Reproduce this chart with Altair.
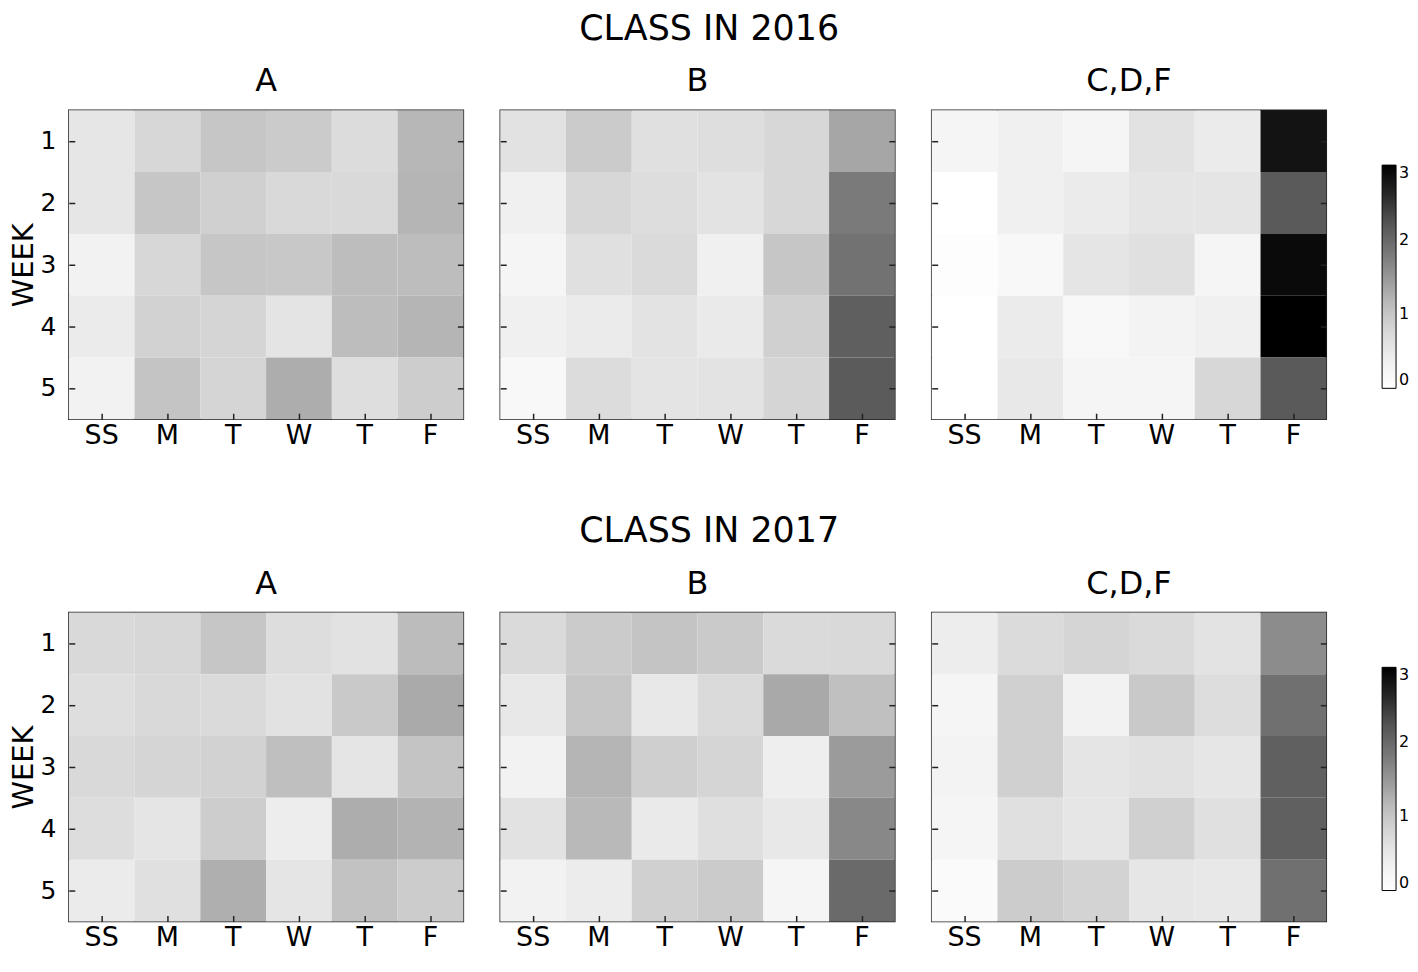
import json
import altair as alt
import pandas as pd

FONT = "DejaVu Sans"

day_labels = ["SS", "M", "T", "W", "T", "F"]
week_labels = [1, 2, 3, 4, 5]
class_names = ["A", "B", "C,D,F"]
years = ["2016", "2017"]

# rows = weeks 1..5 ; columns = SS, M, T, W, T, F
a_2016 = [
    [0.54, 0.78, 1.00, 0.94, 0.70, 1.18],
    [0.54, 1.00, 0.87, 0.75, 0.75, 1.20],
    [0.33, 0.78, 1.00, 0.98, 1.12, 1.12],
    [0.46, 0.84, 0.80, 0.57, 1.12, 1.20],
    [0.33, 1.03, 0.80, 1.28, 0.67, 0.91],
]
b_2016 = [
    [0.60, 0.94, 0.64, 0.67, 0.78, 1.35],
    [0.38, 0.78, 0.69, 0.59, 0.78, 1.80],
    [0.25, 0.64, 0.73, 0.38, 1.00, 1.89],
    [0.38, 0.46, 0.59, 0.47, 0.87, 2.10],
    [0.18, 0.70, 0.57, 0.59, 0.80, 2.15],
]
cdf_2016 = [
    [0.25, 0.38, 0.25, 0.60, 0.46, 2.81],
    [0.00, 0.38, 0.46, 0.56, 0.56, 2.16],
    [0.05, 0.18, 0.56, 0.64, 0.25, 2.90],
    [0.00, 0.46, 0.18, 0.30, 0.38, 3.00],
    [0.00, 0.51, 0.25, 0.25, 0.78, 2.16],
]
a_2017 = [
    [0.75, 0.78, 1.00, 0.69, 0.60, 1.13],
    [0.67, 0.75, 0.73, 0.60, 0.96, 1.31],
    [0.75, 0.80, 0.84, 1.10, 0.56, 1.03],
    [0.69, 0.56, 0.91, 0.42, 1.28, 1.22],
    [0.46, 0.64, 1.26, 0.56, 1.06, 0.92],
]
b_2017 = [
    [0.73, 0.94, 1.03, 0.95, 0.73, 0.75],
    [0.51, 1.00, 0.51, 0.73, 1.32, 1.08],
    [0.33, 1.20, 0.88, 0.80, 0.41, 1.45],
    [0.60, 1.16, 0.47, 0.65, 0.51, 1.65],
    [0.33, 0.44, 0.87, 0.94, 0.25, 1.98],
]
cdf_2017 = [
    [0.42, 0.72, 0.80, 0.73, 0.59, 1.61],
    [0.25, 0.87, 0.33, 0.96, 0.69, 1.91],
    [0.30, 0.87, 0.56, 0.62, 0.54, 2.09],
    [0.25, 0.64, 0.54, 0.87, 0.64, 2.09],
    [0.13, 0.92, 0.83, 0.54, 0.51, 1.91],
]

panel_values = {
    ("2016", "A"): a_2016, ("2016", "B"): b_2016, ("2016", "C,D,F"): cdf_2016,
    ("2017", "A"): a_2017, ("2017", "B"): b_2017, ("2017", "C,D,F"): cdf_2017,
}

legend_values = [0, 1, 2, 3]
# matplotlib "Greys" colormap (ColorBrewer stops), domain 0..3
grey_stops = [0, 0.375, 0.75, 1.125, 1.5, 1.875, 2.25, 2.625, 3]
grey_colors = ["#ffffff", "#f0f0f0", "#d9d9d9", "#bdbdbd", "#969696",
               "#737373", "#525252", "#252525", "#000000"]

label_expr = json.dumps(day_labels) + "[datum.value]"

PW, PH = 396, 310


def panel(year, cls, first):
    vals = panel_values[(year, cls)]
    rows = []
    for wi, w in enumerate(week_labels):
        for di in range(len(day_labels)):
            rows.append({"week": w, "day": di, "value": vals[wi][di]})
    df = pd.DataFrame(rows)

    xscale = alt.Scale(paddingInner=0, paddingOuter=0)
    yscale = alt.Scale(paddingInner=0, paddingOuter=0)
    tick_style = dict(tickSize=6, offset=-6, domain=False, tickColor="#222",
                      tickWidth=1.5, grid=False)

    x = alt.X("day:O", title=None, scale=xscale,
              axis=alt.Axis(labelExpr=label_expr, labelAngle=0, labelFontSize=27,
                            labelFont=FONT, labelColor="black", labelPadding=3,
                            **tick_style))
    y = alt.Y("week:O", scale=yscale,
              title="WEEK" if first else None,
              axis=alt.Axis(labels=first, labelFontSize=25, labelFont=FONT,
                            labelColor="black", labelPadding=13,
                            titleFont=FONT, titleFontSize=29, titleFontWeight="normal",
                            titleColor="black", titlePadding=2,
                            **tick_style))
    color = alt.Color(
        "value:Q",
        scale=alt.Scale(domain=grey_stops, range=grey_colors, interpolate="rgb"),
        legend=alt.Legend(title=None, orient="none", legendX=1318, legendY=55,
                          direction="vertical", gradientLength=224,
                          gradientThickness=14, gradientStrokeColor="black",
                          gradientStrokeWidth=1, values=legend_values,
                          labelFontSize=16, labelFont=FONT, labelColor="black",
                          labelOffset=3),
    )
    heat = alt.Chart(df).mark_rect().encode(x=x, y=y, color=color)
    right = alt.Chart(df).mark_rect(opacity=0).encode(
        y=alt.Y("week:O", scale=yscale,
                axis=alt.Axis(orient="right", labels=False, title=None, **tick_style)),
    )
    return alt.layer(heat, right).resolve_axis(y="independent").properties(
        width=PW, height=PH,
        title=alt.TitleParams(cls, font=FONT, fontSize=32, fontWeight="normal",
                              color="black", anchor="middle", offset=12),
    )


def row(year):
    return alt.hconcat(
        *[panel(year, c, i == 0) for i, c in enumerate(class_names)], spacing=33
    ).properties(
        title=alt.TitleParams("CLASS IN " + year, font=FONT, fontSize=35,
                              fontWeight="normal", color="black", anchor="middle",
                              offset=18)
    )


chart = alt.vconcat(row(years[0]), row(years[1]), spacing=65).resolve_scale(
    color="independent"
).configure_view(stroke="#222", strokeWidth=1.5).properties(
    padding={"left": 0, "top": 2, "right": 0, "bottom": 0}
)

chart.save("out.html", embed_options={"renderer": "svg", "actions": False})
